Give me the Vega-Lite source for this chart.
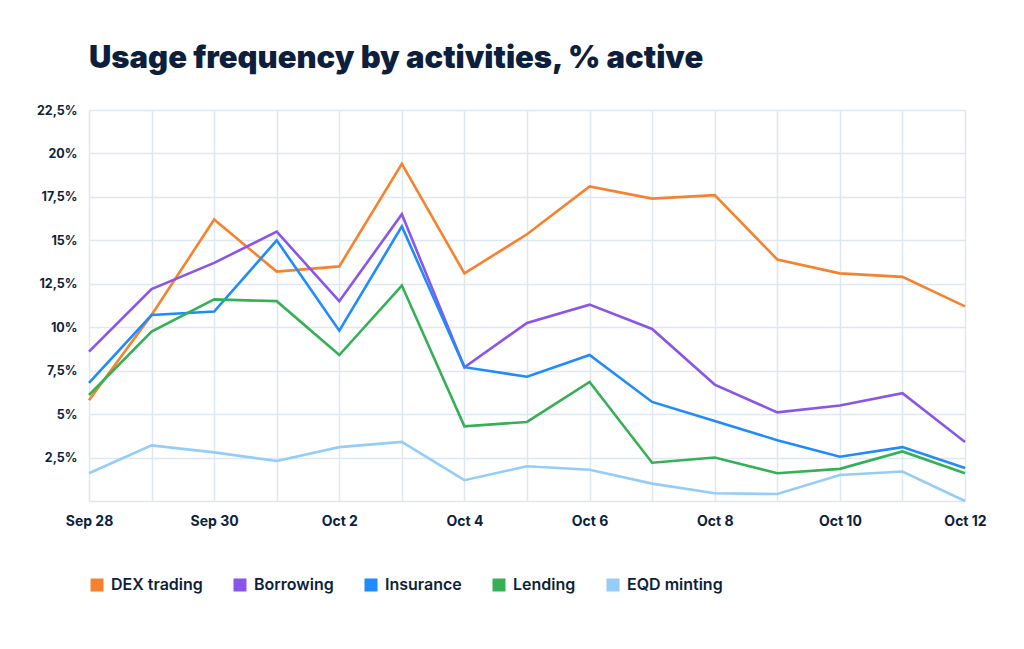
{
  "$schema": "https://vega.github.io/schema/vega-lite/v6.json",
  "description": "Usage frequency by activities, % active",
  "autosize": {"type": "none"},
  "width": 876,
  "height": 391,
  "padding": {"left": 89, "top": 110, "right": 59, "bottom": 148},
  "background": "white",
  "title": {
    "text": "Usage frequency by activities, % active",
    "anchor": "start",
    "frame": "group",
    "font": "Inter",
    "fontSize": 31,
    "fontWeight": 900,
    "color": "#0d1f3c",
    "offset": 29
  },
  "config": {
    "view": {"stroke": null},
    "axis": {
      "labelFont": "Inter",
      "labelFontWeight": 700,
      "labelColor": "#0d1f3c",
      "gridColor": "#dfe7f1",
      "gridWidth": 1.5,
      "domain": false,
      "ticks": false,
      "title": null
    },
    "legend": {
      "labelFont": "Inter",
      "labelFontSize": 16,
      "labelFontWeight": 600,
      "labelColor": "#0d1f3c"
    }
  },
  "data": {
    "values": [
      {"date": "2023-09-28T00:00:00", "activity": "DEX trading", "value": 5.8},
      {"date": "2023-09-29T00:00:00", "activity": "DEX trading", "value": 10.7},
      {"date": "2023-09-30T00:00:00", "activity": "DEX trading", "value": 16.2},
      {"date": "2023-10-01T00:00:00", "activity": "DEX trading", "value": 13.2},
      {"date": "2023-10-02T00:00:00", "activity": "DEX trading", "value": 13.5},
      {"date": "2023-10-03T00:00:00", "activity": "DEX trading", "value": 19.4},
      {"date": "2023-10-04T00:00:00", "activity": "DEX trading", "value": 13.1},
      {"date": "2023-10-05T00:00:00", "activity": "DEX trading", "value": 15.35},
      {"date": "2023-10-06T00:00:00", "activity": "DEX trading", "value": 18.1},
      {"date": "2023-10-07T00:00:00", "activity": "DEX trading", "value": 17.4},
      {"date": "2023-10-08T00:00:00", "activity": "DEX trading", "value": 17.6},
      {"date": "2023-10-09T00:00:00", "activity": "DEX trading", "value": 13.9},
      {"date": "2023-10-10T00:00:00", "activity": "DEX trading", "value": 13.1},
      {"date": "2023-10-11T00:00:00", "activity": "DEX trading", "value": 12.9},
      {"date": "2023-10-12T00:00:00", "activity": "DEX trading", "value": 11.2},
      {"date": "2023-09-28T00:00:00", "activity": "Borrowing", "value": 8.6},
      {"date": "2023-09-29T00:00:00", "activity": "Borrowing", "value": 12.2},
      {"date": "2023-09-30T00:00:00", "activity": "Borrowing", "value": 13.7},
      {"date": "2023-10-01T00:00:00", "activity": "Borrowing", "value": 15.5},
      {"date": "2023-10-02T00:00:00", "activity": "Borrowing", "value": 11.5},
      {"date": "2023-10-03T00:00:00", "activity": "Borrowing", "value": 16.5},
      {"date": "2023-10-04T00:00:00", "activity": "Borrowing", "value": 7.7},
      {"date": "2023-10-05T00:00:00", "activity": "Borrowing", "value": 10.25},
      {"date": "2023-10-06T00:00:00", "activity": "Borrowing", "value": 11.3},
      {"date": "2023-10-07T00:00:00", "activity": "Borrowing", "value": 9.9},
      {"date": "2023-10-08T00:00:00", "activity": "Borrowing", "value": 6.7},
      {"date": "2023-10-09T00:00:00", "activity": "Borrowing", "value": 5.1},
      {"date": "2023-10-10T00:00:00", "activity": "Borrowing", "value": 5.5},
      {"date": "2023-10-11T00:00:00", "activity": "Borrowing", "value": 6.2},
      {"date": "2023-10-12T00:00:00", "activity": "Borrowing", "value": 3.4},
      {"date": "2023-09-28T00:00:00", "activity": "Insurance", "value": 6.8},
      {"date": "2023-09-29T00:00:00", "activity": "Insurance", "value": 10.7},
      {"date": "2023-09-30T00:00:00", "activity": "Insurance", "value": 10.9},
      {"date": "2023-10-01T00:00:00", "activity": "Insurance", "value": 15.0},
      {"date": "2023-10-02T00:00:00", "activity": "Insurance", "value": 9.8},
      {"date": "2023-10-03T00:00:00", "activity": "Insurance", "value": 15.8},
      {"date": "2023-10-04T00:00:00", "activity": "Insurance", "value": 7.7},
      {"date": "2023-10-05T00:00:00", "activity": "Insurance", "value": 7.15},
      {"date": "2023-10-06T00:00:00", "activity": "Insurance", "value": 8.4},
      {"date": "2023-10-07T00:00:00", "activity": "Insurance", "value": 5.7},
      {"date": "2023-10-08T00:00:00", "activity": "Insurance", "value": 4.6},
      {"date": "2023-10-09T00:00:00", "activity": "Insurance", "value": 3.5},
      {"date": "2023-10-10T00:00:00", "activity": "Insurance", "value": 2.55},
      {"date": "2023-10-11T00:00:00", "activity": "Insurance", "value": 3.1},
      {"date": "2023-10-12T00:00:00", "activity": "Insurance", "value": 1.9},
      {"date": "2023-09-28T00:00:00", "activity": "Lending", "value": 6.1},
      {"date": "2023-09-29T00:00:00", "activity": "Lending", "value": 9.75},
      {"date": "2023-09-30T00:00:00", "activity": "Lending", "value": 11.6},
      {"date": "2023-10-01T00:00:00", "activity": "Lending", "value": 11.5},
      {"date": "2023-10-02T00:00:00", "activity": "Lending", "value": 8.4},
      {"date": "2023-10-03T00:00:00", "activity": "Lending", "value": 12.4},
      {"date": "2023-10-04T00:00:00", "activity": "Lending", "value": 4.3},
      {"date": "2023-10-05T00:00:00", "activity": "Lending", "value": 4.55},
      {"date": "2023-10-06T00:00:00", "activity": "Lending", "value": 6.85},
      {"date": "2023-10-07T00:00:00", "activity": "Lending", "value": 2.2},
      {"date": "2023-10-08T00:00:00", "activity": "Lending", "value": 2.5},
      {"date": "2023-10-09T00:00:00", "activity": "Lending", "value": 1.6},
      {"date": "2023-10-10T00:00:00", "activity": "Lending", "value": 1.85},
      {"date": "2023-10-11T00:00:00", "activity": "Lending", "value": 2.85},
      {"date": "2023-10-12T00:00:00", "activity": "Lending", "value": 1.6},
      {"date": "2023-09-28T00:00:00", "activity": "EQD minting", "value": 1.6},
      {"date": "2023-09-29T00:00:00", "activity": "EQD minting", "value": 3.2},
      {"date": "2023-09-30T00:00:00", "activity": "EQD minting", "value": 2.8},
      {"date": "2023-10-01T00:00:00", "activity": "EQD minting", "value": 2.3},
      {"date": "2023-10-02T00:00:00", "activity": "EQD minting", "value": 3.1},
      {"date": "2023-10-03T00:00:00", "activity": "EQD minting", "value": 3.4},
      {"date": "2023-10-04T00:00:00", "activity": "EQD minting", "value": 1.2},
      {"date": "2023-10-05T00:00:00", "activity": "EQD minting", "value": 2.0},
      {"date": "2023-10-06T00:00:00", "activity": "EQD minting", "value": 1.8},
      {"date": "2023-10-07T00:00:00", "activity": "EQD minting", "value": 1.0},
      {"date": "2023-10-08T00:00:00", "activity": "EQD minting", "value": 0.45},
      {"date": "2023-10-09T00:00:00", "activity": "EQD minting", "value": 0.4},
      {"date": "2023-10-10T00:00:00", "activity": "EQD minting", "value": 1.5},
      {"date": "2023-10-11T00:00:00", "activity": "EQD minting", "value": 1.7},
      {"date": "2023-10-12T00:00:00", "activity": "EQD minting", "value": 0.0}
    ]
  },
  "mark": {"type": "line", "strokeWidth": 2.6, "strokeJoin": "miter"},
  "encoding": {
    "x": {
      "field": "date",
      "type": "temporal",
      "scale": {"nice": false},
      "axis": {
        "values": [
          {"year": 2023, "month": 9, "date": 28},
          {"year": 2023, "month": 9, "date": 29},
          {"year": 2023, "month": 9, "date": 30},
          {"year": 2023, "month": 10, "date": 1},
          {"year": 2023, "month": 10, "date": 2},
          {"year": 2023, "month": 10, "date": 3},
          {"year": 2023, "month": 10, "date": 4},
          {"year": 2023, "month": 10, "date": 5},
          {"year": 2023, "month": 10, "date": 6},
          {"year": 2023, "month": 10, "date": 7},
          {"year": 2023, "month": 10, "date": 8},
          {"year": 2023, "month": 10, "date": 9},
          {"year": 2023, "month": 10, "date": 10},
          {"year": 2023, "month": 10, "date": 11},
          {"year": 2023, "month": 10, "date": 12}
        ],
        "labelExpr": "date(datum.value) % 2 == 0 ? timeFormat(datum.value, '%b %-d') : ''",
        "labelFontSize": 14,
        "labelPadding": 13,
        "labelFlush": false,
        "labelOverlap": false
      }
    },
    "y": {
      "field": "value",
      "type": "quantitative",
      "scale": {"domain": [0, 22.5], "nice": false},
      "axis": {
        "values": [0, 2.5, 5, 7.5, 10, 12.5, 15, 17.5, 20, 22.5],
        "labelExpr": "datum.value == 0 ? '' : replace(format(datum.value, '.1~f'), '.', ',') + '%'",
        "labelFontSize": 12.5,
        "labelPadding": 12
      }
    },
    "color": {
      "field": "activity",
      "type": "nominal",
      "scale": {
        "domain": ["DEX trading", "Borrowing", "Insurance", "Lending", "EQD minting"],
        "range": ["#f7822e", "#8a55eb", "#1f8bff", "#36b056", "#94cdf7"]
      },
      "legend": {
        "title": null,
        "orient": "none",
        "direction": "horizontal",
        "legendX": 0,
        "legendY": 467,
        "symbolType": "square",
        "symbolSize": 169,
        "symbolOpacity": 1,
        "labelOffset": 6,
        "columnPadding": 29,
        "encode": {
          "symbols": {
            "update": {
              "fill": {"scale": "color", "field": "value"},
              "stroke": {"value": "transparent"},
              "strokeWidth": {"value": 0}
            }
          }
        }
      }
    }
  }
}
